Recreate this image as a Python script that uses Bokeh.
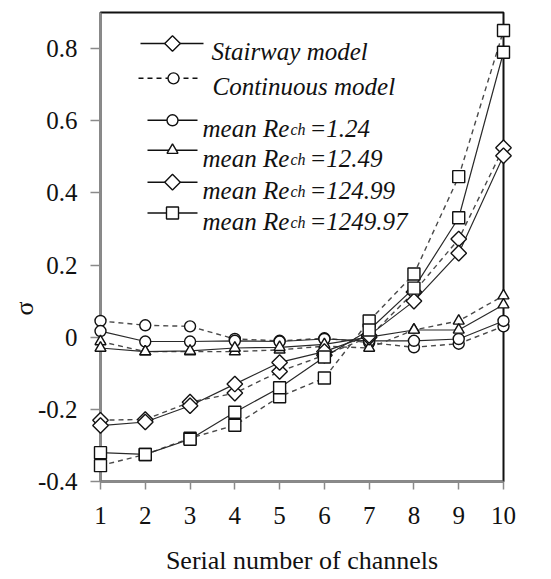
import math
from bokeh.plotting import figure
from bokeh.models import Range1d, Label, FixedTicker, Title
from bokeh.embed import file_html
from bokeh.resources import INLINE

# ---------------- data ----------------
channels = [1, 2, 3, 4, 5, 6, 7, 8, 9, 10]

# Stairway model (solid lines)
stair_re1 = [0.017, -0.012, -0.012, -0.010, -0.012, -0.005, -0.010, -0.010, -0.005, 0.045]
stair_re12 = [-0.030, -0.040, -0.038, -0.030, -0.028, -0.020, 0.000, 0.020, 0.020, 0.090]
stair_re124 = [-0.245, -0.235, -0.190, -0.130, -0.070, -0.040, 0.005, 0.100, 0.233, 0.503]
stair_re1249 = [-0.320, -0.325, -0.283, -0.208, -0.140, -0.055, 0.020, 0.136, 0.331, 0.790]

# Continuous model (dashed lines)
cont_re1 = [0.045, 0.033, 0.030, -0.005, -0.010, -0.003, -0.015, -0.028, -0.018, 0.030]
cont_re12 = [-0.012, -0.040, -0.040, -0.040, -0.035, -0.025, -0.030, 0.020, 0.045, 0.115]
cont_re124 = [-0.230, -0.228, -0.180, -0.155, -0.095, -0.050, 0.000, 0.125, 0.272, 0.525]
cont_re1249 = [-0.356, -0.325, -0.280, -0.244, -0.165, -0.113, 0.045, 0.175, 0.445, 0.850]

y_ticks = [-0.4, -0.2, 0, 0.2, 0.4, 0.6, 0.8]
y_tick_labels = ["-0.4", "-0.2", "0", "0.2", "0.4", "0.6", "0.8"]
x_ticks = channels

re_values = ["1.24", "12.49", "124.99", "1249.97"]
model_names = ["Stairway model", "Continuous model"]
x_title = "Serial number of channels"
y_title = "σ"

# ---------------- layout ----------------
W, H = 549, 577
FL, FR, FT, FB = 100, 503, 12, 482   # frame edges in figure pixels
X0, X1, Y0, Y1 = 1, 10, -0.4, 0.9

def dx(px):
    return X0 + (px - FL) * (X1 - X0) / (FR - FL)

def dy(py):
    return Y1 - (py - FT) * (Y1 - Y0) / (FB - FT)

p = figure(width=W, height=H, output_backend="svg", toolbar_location=None,
           x_range=Range1d(X0, X1), y_range=Range1d(Y0, Y1),
           min_border_left=FL, min_border_right=W - FR,
           min_border_top=FT, min_border_bottom=H - FB)
p.grid.visible = False
p.outline_line_color = "#111111"
p.outline_line_width = 2
p.background_fill_color = "white"
p.border_fill_color = "white"

FONT = "Liberation Serif, Times New Roman, serif"
TXT_C = "#111111"
for ax in (p.xaxis[0], p.yaxis[0]):
    ax.axis_line_color = "#8a8a8a"
    ax.axis_line_width = 2
    ax.major_tick_line_color = "#8a8a8a"
    ax.major_tick_line_width = 1.5
    ax.minor_tick_line_color = None
    ax.major_tick_in = 0
    ax.major_label_text_font = FONT
    ax.major_label_text_font_size = "25px"
    ax.major_label_text_color = TXT_C

p.xaxis.ticker = FixedTicker(ticks=x_ticks)
p.xaxis.major_tick_out = 8
p.xaxis.major_label_standoff = 17
p.xaxis.axis_label = x_title
p.xaxis.axis_label_text_font = FONT
p.xaxis.axis_label_text_font_size = "26px"
p.xaxis.axis_label_text_font_style = "normal"
p.xaxis.axis_label_text_color = TXT_C
p.xaxis.axis_label_standoff = 19

p.yaxis.ticker = FixedTicker(ticks=y_ticks)
p.yaxis.major_label_overrides = {t: l for t, l in zip(y_ticks, y_tick_labels)}
p.yaxis.major_tick_out = 10
p.yaxis.major_label_standoff = 13

p.add_layout(Title(text=y_title, align="left", offset=166,
                   text_font=FONT, text_font_size="26px", text_font_style="normal",
                   text_color=TXT_C, standoff=-8), "left")

LINE_C = "#2a2a2a"
DASH_C = "#4a4a4a"
DASH = "5 4"

series = [
    (stair_re1, cont_re1, "circle", 11, 0),
    (stair_re12, cont_re12, "triangle", 11, 0),
    (stair_re124, cont_re124, "square", 11, math.pi / 4),
    (stair_re1249, cont_re1249, "square", 12, 0),
]

for s, c, m, sz, ang in series:
    p.line(channels, c, line_color=DASH_C, line_width=1.4, line_dash=DASH)
    p.line(channels, s, line_color=LINE_C, line_width=1.2)
for s, c, m, sz, ang in series:
    for vals in (c, s):
        r = p.scatter(channels, vals, marker=m, size=sz, angle=ang,
                      fill_color="white", line_color="#111111", line_width=1.4)
        r.level = "overlay"

# ---------------- legend (manual) ----------------
def leg_sample(y_px, x_a, x_b, x_m, marker, sz, ang, dash=None):
    kw = dict(line_color="#111111", line_width=1.5)
    if dash:
        kw["line_dash"] = dash
    p.line([dx(x_a), dx(x_b)], [dy(y_px), dy(y_px)], **kw)
    p.scatter([dx(x_m)], [dy(y_px)], marker=marker, size=sz, angle=ang,
              fill_color="white", line_color="#111111", line_width=1.4)

LEG_FS = "25px"
rows_top = [43, 78]
leg_sample(rows_top[0], 140, 203, 172, "square", 11, math.pi / 4)
leg_sample(rows_top[1], 138, 200, 173, "circle", 11, 0, dash=DASH)
for yy, xt, txt in zip(rows_top, [211, 212], model_names):
    p.add_layout(Label(x=dx(xt), y=dy(yy + 8), text=txt, text_font=FONT,
                       text_font_size=LEG_FS, text_font_style="italic",
                       text_color=TXT_C, text_baseline="alphabetic"))

rows_re = [120, 150, 182, 213]
markers_re = [("circle", 11, 0), ("triangle", 11, 0), ("square", 11, math.pi / 4), ("square", 12, 0)]
for yy, (m, sz, ang), val in zip(rows_re, markers_re, re_values):
    leg_sample(yy, 147, 197, 172, m, sz, ang)
    base = dy(yy + 8)
    p.add_layout(Label(x=dx(202), y=base, text="mean Re", text_font=FONT,
                       text_font_size=LEG_FS, text_font_style="italic",
                       text_color=TXT_C, text_baseline="alphabetic"))
    p.add_layout(Label(x=dx(290), y=dy(yy + 9), text="ch", text_font=FONT,
                       text_font_size="16px", text_font_style="italic",
                       text_color=TXT_C, text_baseline="alphabetic"))
    p.add_layout(Label(x=dx(309), y=base, text="=" + val, text_font=FONT,
                       text_font_size=LEG_FS, text_font_style="italic",
                       text_color=TXT_C, text_baseline="alphabetic"))

open("out.html", "w").write(file_html(p, INLINE))
